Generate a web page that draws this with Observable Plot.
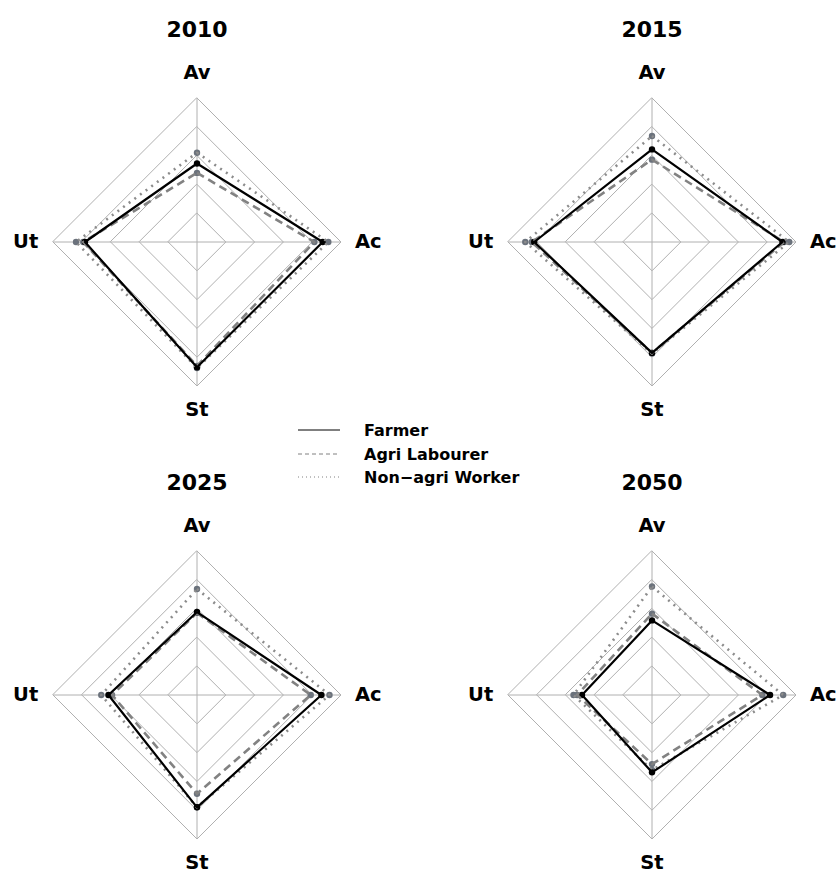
<!DOCTYPE html>
<html><head><meta charset="utf-8">
<script src="https://cdn.jsdelivr.net/npm/d3@7"></script>
<script src="https://cdn.jsdelivr.net/npm/@observablehq/plot@0.6"></script>
<style>
body{margin:0;background:#fff;}
#wrap{position:relative;width:839px;height:876px;overflow:hidden;font-family:"DejaVu Sans",sans-serif;}
.panel{position:absolute;}
.lg{position:absolute;left:296px;height:20px;display:flex;align-items:center;font:bold 16px "DejaVu Sans",sans-serif;color:#000;}
.lg svg{margin-right:22px;}
</style></head><body><div id="wrap"></div>
<script>
// ---- data ----
const years = ["2010", "2015", "2025", "2050"];
const axisLabels = ["Av", "Ac", "St", "Ut"];
const seriesNames = ["Farmer", "Agri Labourer", "Non-agri Worker"];
const gridLevels = [0.2, 0.4, 0.6, 0.8, 1.0];
// values (fraction of outer ring) per year, order Av, Ac, St, Ut
const farmerValues = [
  [0.545, 0.873, 0.870, 0.778],
  [0.643, 0.906, 0.770, 0.818],
  [0.576, 0.864, 0.780, 0.615],
  [0.518, 0.820, 0.537, 0.486]
];
const agriValues = [
  [0.480, 0.815, 0.860, 0.790],
  [0.572, 0.918, 0.770, 0.835],
  [0.570, 0.790, 0.686, 0.590],
  [0.565, 0.766, 0.480, 0.520]
];
const nonAgriValues = [
  [0.620, 0.912, 0.875, 0.840],
  [0.736, 0.953, 0.775, 0.880],
  [0.736, 0.920, 0.780, 0.665],
  [0.753, 0.911, 0.520, 0.545]
];

// ---- drawing ----
const angles = [90, 0, -90, 180];
const labelR = [1.175, 1.19, 1.165, 1.19];
const styles = [
  {stroke: "#000", width: 2.2, dash: null, dot: "#000"},
  {stroke: "#828282", width: 2.6, dash: "8,5", dot: "#6b727c"},
  {stroke: "#8c8c8c", width: 2.6, dash: "2,5", dot: "#6b727c"}
];
const allValues = [farmerValues, agriValues, nonAgriValues];
const X = d => d.v * Math.cos(d.ang * Math.PI / 180);
const Y = d => d.v * Math.sin(d.ang * Math.PI / 180);

const wrap = document.getElementById("wrap");
const cx = 196.5, cy = 241.5, R = 144;
const pos = [[0, 0], [455, 0], [0, 453], [455, 453]];

years.forEach((yr, i) => {
  const grid = gridLevels.flatMap(l => axisLabels.map((a, ai) => ({level: l, v: l, ang: angles[ai]})));
  const spokes = axisLabels.map((a, ai) => ({v: 1, ang: angles[ai]}));
  const labels = axisLabels.map((a, ai) => ({text: a, v: labelR[ai], ang: angles[ai]}));
  const marks = [
    Plot.line(grid, {x: X, y: Y, z: "level", curve: "linear-closed", stroke: "#b0b0b0", strokeWidth: 1}),
    Plot.link(spokes, {x1: () => 0, y1: () => 0, x2: X, y2: Y, stroke: "#b0b0b0", strokeWidth: 1})
  ];
  [2, 1, 0].forEach(si => {
    const rows = axisLabels.map((a, ai) => ({series: seriesNames[si], axis: a, v: allValues[si][i][ai], ang: angles[ai]}));
    const st = styles[si];
    marks.push(Plot.dot(rows, {x: X, y: Y, r: 3.2, fill: st.dot, stroke: null}));
  });
  [2, 1, 0].forEach(si => {
    const rows = axisLabels.map((a, ai) => ({series: seriesNames[si], axis: a, v: allValues[si][i][ai], ang: angles[ai]}));
    const st = styles[si];
    const opts = {x: X, y: Y, curve: "linear-closed", stroke: st.stroke, strokeWidth: st.width, strokeLinecap: "butt"};
    if (st.dash) opts.strokeDasharray = st.dash;
    marks.push(Plot.line(rows, opts));
  });
  marks.push(Plot.text(labels, {x: X, y: Y, text: "text", fontSize: 19.5, fontWeight: "bold", fill: "#000"}));
  marks.push(Plot.text([yr], {x: () => 0, y: () => 1.475, text: d => d, fontSize: 22, fontWeight: "bold", fill: "#000"}));
  const w = pos[i][0] ? 839 - pos[i][0] : pos[1][0];
  const h = pos[i][1] ? 876 - pos[i][1] : pos[2][1];
  const svg = Plot.plot({
    width: w, height: h, margin: 0,
    x: {domain: [-1, 1], range: [cx - R, cx + R], axis: null},
    y: {domain: [-1, 1], range: [cy + R, cy - R], axis: null},
    style: {fontFamily: "DejaVu Sans", background: "transparent", overflow: "visible"},
    marks
  });
  svg.classList.add("panel");
  svg.style.left = pos[i][0] + "px";
  svg.style.top = pos[i][1] + "px";
  wrap.appendChild(svg);
});

// legend
const legendTops = [420, 444, 467];
seriesNames.forEach((s, si) => {
  const div = document.createElement("div");
  div.className = "lg";
  div.style.top = legendTops[si] + "px";
  const ns = "http://www.w3.org/2000/svg";
  const sv = document.createElementNS(ns, "svg");
  sv.setAttribute("width", 46); sv.setAttribute("height", 10);
  const ln = document.createElementNS(ns, "line");
  ln.setAttribute("x1", 2); ln.setAttribute("x2", 44); ln.setAttribute("y1", 5); ln.setAttribute("y2", 5);
  ln.setAttribute("stroke", si === 0 ? "#000" : "#808080");
  ln.setAttribute("stroke-width", 1);
  if (si === 1) ln.setAttribute("stroke-dasharray", "4,3");
  if (si === 2) ln.setAttribute("stroke-dasharray", "1,3");
  sv.appendChild(ln);
  div.appendChild(sv);
  const sp = document.createElement("span");
  sp.textContent = s === "Non-agri Worker" ? "Non\u2212agri Worker" : s;
  div.appendChild(sp);
  wrap.appendChild(div);
});
</script></body></html>
